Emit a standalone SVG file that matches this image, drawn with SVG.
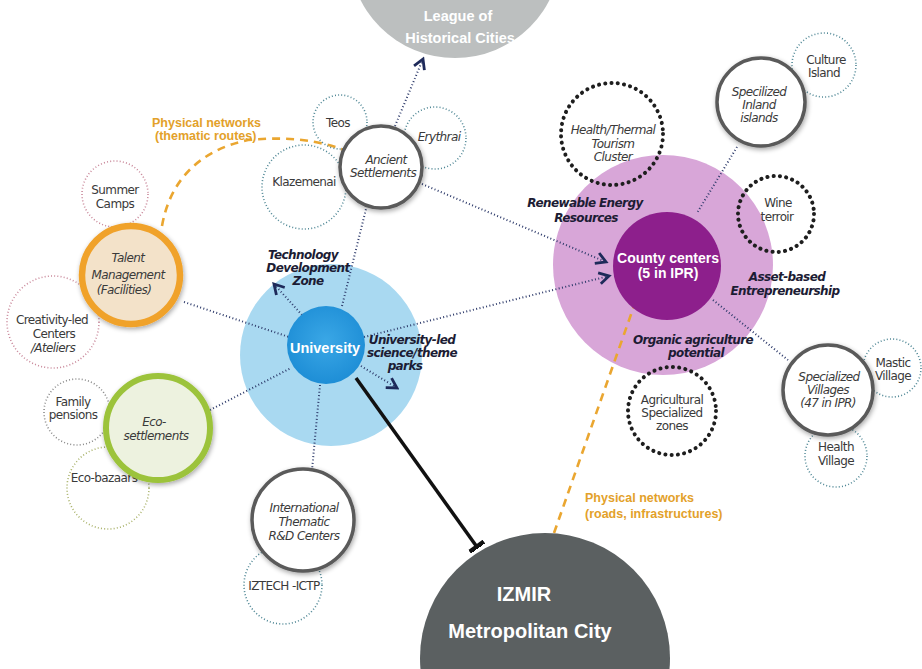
<svg xmlns="http://www.w3.org/2000/svg" width="922" height="669" viewBox="0 0 922 669">
<defs>
<style>
.t{font-family:"DejaVu Sans","Liberation Sans",sans-serif;font-size:12px;fill:#3a3a3a;text-anchor:middle;font-style:italic;letter-spacing:-0.6px}
.tn{font-style:normal}
.b{font-family:"DejaVu Sans","Liberation Sans",sans-serif;font-size:12px;font-weight:bold;font-style:italic;fill:#1c1c34;text-anchor:middle;letter-spacing:-0.6px}
.w{font-family:"Liberation Sans","DejaVu Sans",sans-serif;font-weight:bold;fill:#ffffff;text-anchor:middle}
.o{font-family:"Liberation Sans","DejaVu Sans",sans-serif;font-size:12.5px;font-weight:bold;fill:#e3a12a}
.dl{fill:none;stroke:#2d3a6a;stroke-width:2;stroke-dasharray:1 2.4}
.ring{fill:#ffffff;stroke:#5a5a5a;stroke-width:3.5}
.tdot{fill:none;stroke:#4f8795;stroke-width:1.6;stroke-dasharray:1 2.2}
.pdot{fill:none;stroke:#c9889a;stroke-width:1.6;stroke-dasharray:1 2.2}
.gdot{fill:none;stroke:#8a8a8a;stroke-width:1.6;stroke-dasharray:1 2.2}
.hdot{fill:none;stroke:#1e1e1e;stroke-width:4;stroke-dasharray:0.1 6.2;stroke-linecap:round}
.od{fill:none;stroke:#eaa630;stroke-width:2.6;stroke-dasharray:8 6}
</style>
<marker id="arr" viewBox="0 0 10 10" refX="8" refY="5" markerWidth="7" markerHeight="7" orient="auto">
<path d="M1,1 L8,5 L1,9" fill="none" stroke="#1e2a5a" stroke-width="2"/>
</marker>
<marker id="tbar" viewBox="0 0 10 10" refX="9" refY="5" markerWidth="5" markerHeight="5" orient="auto">
<path d="M9,0 L9,10" fill="none" stroke="#111" stroke-width="3"/>
</marker>
<filter id="sh" x="-30%" y="-30%" width="160%" height="160%">
<feGaussianBlur in="SourceAlpha" stdDeviation="2.5"/>
<feOffset dx="1" dy="2" result="o"/>
<feComponentTransfer><feFuncA type="linear" slope="0.35"/></feComponentTransfer>
<feMerge><feMergeNode/><feMergeNode in="SourceGraphic"/></feMerge>
</filter>
<radialGradient id="ug" cx="50%" cy="45%" r="55%"><stop offset="0" stop-color="#3aa7e6"/><stop offset="1" stop-color="#1e8ed6"/></radialGradient>
</defs>
<rect width="922" height="669" fill="#ffffff"/>

<g id="league">
<circle cx="455" cy="-48" r="106" fill="#bcbfbf"/>
<text class="w" x="458" y="21" font-size="14.5">League of</text>
<text class="w" x="460" y="43" font-size="14.5">Historical Cities</text>
</g>

<g id="university-zone"><circle cx="331" cy="355" r="91" fill="#a9d9f1"/></g>
<g id="county-zone"><circle cx="663" cy="265" r="110" fill="#d8a6d8"/></g>

<g id="connectors">
<path class="dl" d="M395,126 L423,59" marker-end="url(#arr)"/>
<path class="dl" d="M342,306 L366,209"/>
<path class="dl" d="M422,184 L606,262" marker-end="url(#arr)"/>
<path class="dl" d="M364,337 L609,276" marker-end="url(#arr)"/>
<path class="dl" d="M184,302 L289,337"/>
<path class="dl" d="M210,410 L291,368"/>
<path class="dl" d="M320,385 L312,470"/>
<path class="dl" d="M302,315 L274,284" marker-end="url(#arr)"/>
<path class="dl" d="M361,366 L397,388" marker-end="url(#arr)"/>
<path class="dl" d="M737,147 L697,213"/>
<path class="dl" d="M713,300 L788,360"/>
<path d="M356,378 L477,547" stroke="#111" stroke-width="3.5" fill="none" marker-end="url(#tbar)"/>
<path class="od" d="M554,533 L634,306"/>
<path class="od" d="M162,226 C170,180 200,150 248,140 C290,136 320,141 344,150"/>
</g>

<g id="teos"><circle class="tdot" cx="340" cy="122" r="27"/><text class="t tn" x="338" y="127">Teos</text></g>
<g id="erythrai"><circle class="tdot" cx="435" cy="138" r="31"/><text class="t" x="439" y="141">Erythrai</text></g>
<g id="klazemenai"><circle class="tdot" cx="304" cy="187" r="42"/><text class="t tn" x="304" y="186">Klazemenai</text></g>
<g id="ancient"><circle class="ring" cx="381" cy="167" r="41" filter="url(#sh)"/><text class="t" x="386" y="164">Ancient</text><text class="t" x="383" y="177">Settlements</text></g>

<g id="summer"><circle class="pdot" cx="115" cy="194" r="33"/><text class="t tn" x="115" y="194">Summer</text><text class="t tn" x="115" y="208">Camps</text></g>
<g id="creativity"><circle class="pdot" cx="53" cy="322" r="46"/><text class="t tn" x="52" y="324">Creativity-led</text><text class="t tn" x="54" y="338">Centers</text><text class="t" x="53" y="352">/Ateliers</text></g>
<g id="talent"><circle cx="131" cy="275" r="49" fill="#f3e2c9" stroke="#f0a22c" stroke-width="6.5" filter="url(#sh)"/><text class="t" x="128" y="262">Talent</text><text class="t" x="128" y="279">Management</text><text class="t" x="124" y="294">(Facilities)</text></g>

<g id="family"><circle class="gdot" cx="77" cy="412" r="33"/><text class="t tn" x="73" y="406">Family</text><text class="t tn" x="73" y="419">pensions</text></g>
<g id="ecobazaars"><circle class="gdot" cx="108" cy="488" r="41" style="stroke:#a9b26a"/><text class="t tn" x="104" y="482">Eco-bazaars</text></g>
<g id="eco"><circle cx="158" cy="428" r="52" fill="#edf2df" stroke="#9cc33a" stroke-width="6" filter="url(#sh)"/><text class="t" x="154" y="426">Eco-</text><text class="t" x="156" y="440">settlements</text></g>

<g id="university"><circle cx="326" cy="345" r="39" fill="url(#ug)"/><text class="w" x="325" y="353" font-size="14.5">University</text></g>
<g id="univ-labels">
<text class="b" x="303" y="259">Technology</text><text class="b" x="308" y="272">Development</text><text class="b" x="308" y="285">Zone</text>
<text class="b" x="412" y="344">University-led</text><text class="b" x="412" y="357">science/theme</text><text class="b" x="405" y="370">parks</text>
</g>

<g id="iztech"><circle class="tdot" cx="283" cy="585" r="39"/><text class="t tn" x="284" y="590">IZTECH -ICTP</text></g>
<g id="international"><circle class="ring" cx="303" cy="520" r="51" filter="url(#sh)"/><text class="t" x="304" y="512">International</text><text class="t" x="304" y="526">Thematic</text><text class="t" x="304" y="540">R&amp;D Centers</text></g>

<g id="izmir"><circle cx="545" cy="658" r="125" fill="#5b6061"/>
<text class="w" x="524" y="601" font-size="20">IZMIR</text>
<text class="w" x="530" y="638" font-size="20">Metropolitan City</text></g>
<g id="izmir-label"><text class="o" x="585" y="502">Physical networks</text><text class="o" x="585" y="518">(roads, infrastructures)</text></g>
<g id="routes-label"><text class="o" x="152" y="127" font-size="10.5">Physical networks</text><text class="o" x="155" y="140" font-size="10.5">(thematic routes)</text></g>

<g id="health-thermal"><circle class="hdot" cx="612" cy="134" r="51"/><text class="t" x="613" y="134">Health/Thermal</text><text class="t" x="613" y="148">Tourism</text><text class="t" x="613" y="161">Cluster</text></g>
<g id="culture"><circle class="tdot" cx="824" cy="65" r="32"/><text class="t tn" x="826" y="64">Culture</text><text class="t tn" x="824" y="77">Island</text></g>
<g id="inland"><circle class="ring" cx="761" cy="102" r="44" filter="url(#sh)"/><text class="t" x="759" y="96">Specilized</text><text class="t" x="759" y="109">Inland</text><text class="t" x="759" y="122">islands</text></g>
<g id="wine"><circle class="hdot" cx="776" cy="214" r="38"/><text class="t tn" x="778" y="207">Wine</text><text class="t tn" x="777" y="221">terroir</text></g>

<g id="county"><circle cx="667" cy="266" r="54" fill="#8d1f8c"/><text class="w" x="668" y="263" font-size="14">County centers</text><text class="w" x="668" y="278" font-size="14">(5 in IPR)</text></g>
<g id="county-labels">
<text class="b" x="585" y="207">Renewable Energy</text><text class="b" x="586" y="222">Resources</text>
<text class="b" x="787" y="281">Asset-based</text><text class="b" x="785" y="295">Entrepreneurship</text>
<text class="b" x="693" y="344">Organic agriculture</text><text class="b" x="696" y="357">potential</text>
</g>

<g id="agri"><circle class="hdot" cx="672" cy="411" r="44"/><text class="t tn" x="672" y="404" font-size="10.5">Agricultural</text><text class="t tn" x="672" y="417" font-size="10.5">Specialized</text><text class="t tn" x="672" y="430" font-size="10.5">zones</text></g>
<g id="mastic"><circle class="tdot" cx="892" cy="368" r="29"/><text class="t tn" x="893" y="367">Mastic</text><text class="t tn" x="893" y="380">Village</text></g>
<g id="health-village"><circle class="tdot" cx="836" cy="456" r="31"/><text class="t tn" x="836" y="451">Health</text><text class="t tn" x="836" y="465">Village</text></g>
<g id="villages"><circle class="ring" cx="828" cy="390" r="45" filter="url(#sh)"/><text class="t" x="829" y="381">Specialized</text><text class="t" x="828" y="394">Villages</text><text class="t" x="828" y="407">(47 in IPR)</text></g>
</svg>
